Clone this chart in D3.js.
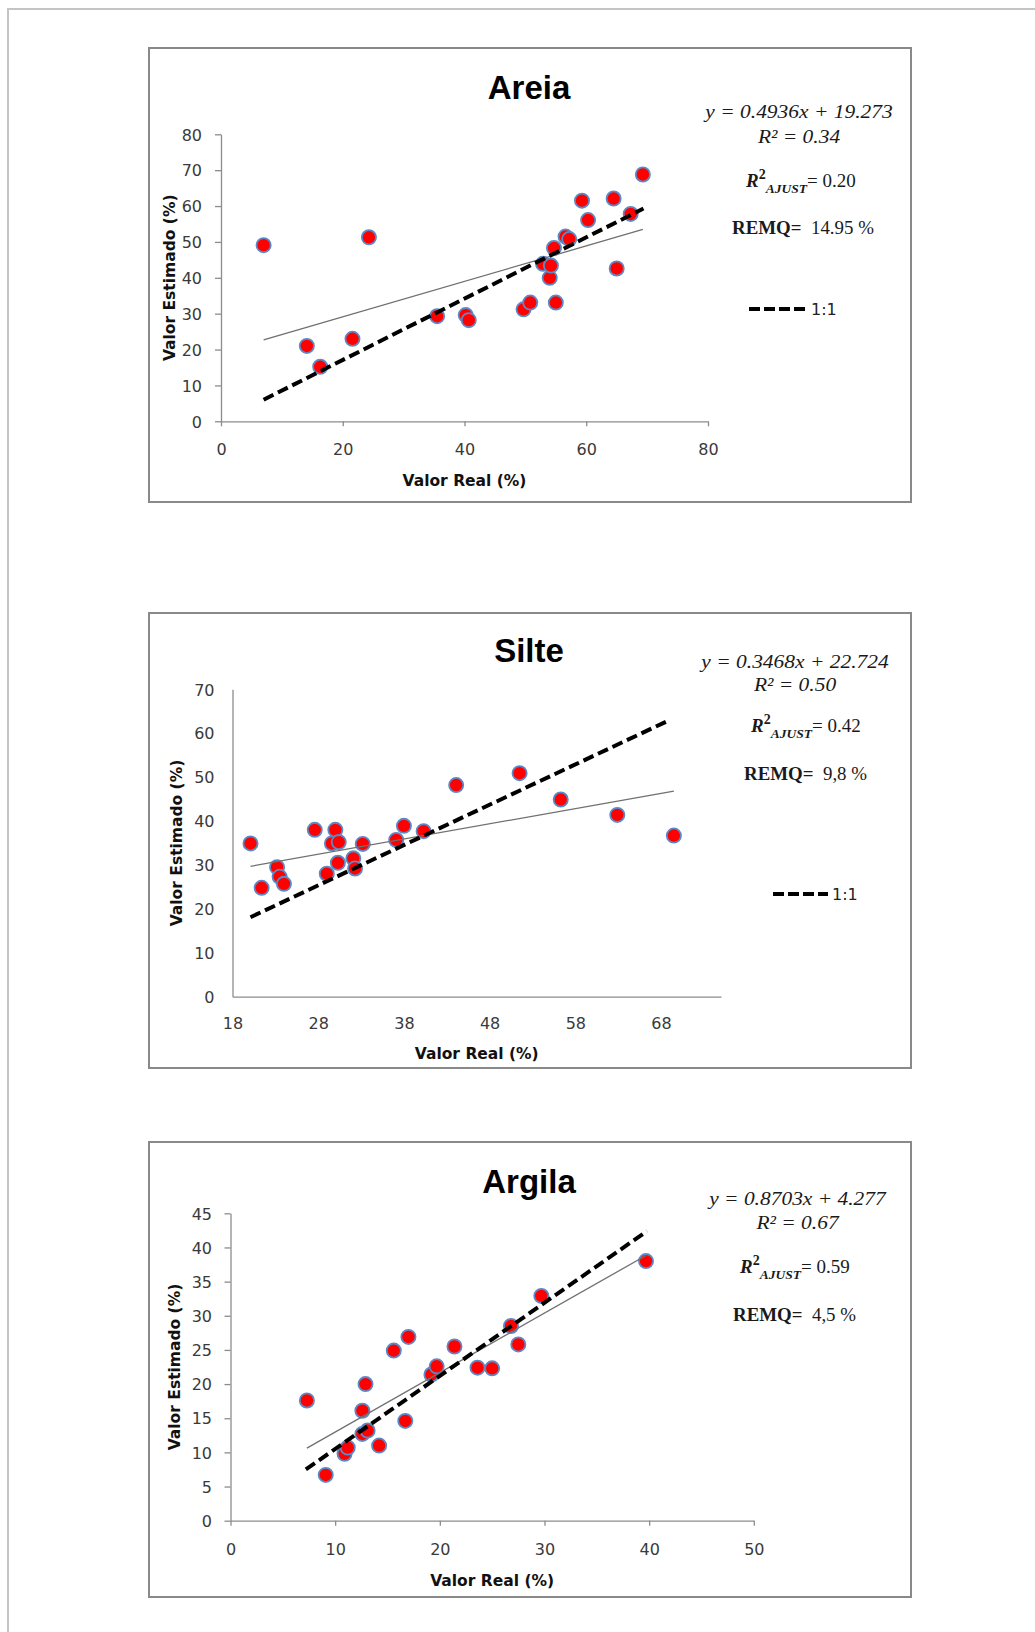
<!DOCTYPE html>
<html>
<head>
<meta charset="utf-8">
<script src="https://cdn.jsdelivr.net/npm/d3@7"></script>
<style>
  body { margin: 0; background: #fff; }
</style>
</head>
<body>
<script>
// values
const areiaReal = [7.0, 24.3, 14.1, 16.3, 21.6, 35.5, 40.2, 40.7, 49.7, 50.8, 55.0, 54.0, 52.9, 54.2, 54.7, 56.6, 57.2, 60.3, 59.3, 64.5, 65.0, 67.3, 69.3];
const areiaEst  = [49.1, 51.3, 21.0, 15.2, 23.0, 29.3, 29.6, 28.2, 31.2, 33.1, 33.1, 40.0, 43.9, 43.4, 48.3, 51.5, 50.8, 56.1, 61.5, 62.1, 42.6, 57.8, 68.8];
const areiaRef  = [[7.0, 6.0], [69.4, 59.3]];

const silteReal = [20.1, 21.4, 23.2, 23.5, 24.0, 27.6, 30.0, 29.6, 30.4, 30.3, 29.0, 32.1, 32.3, 33.2, 37.1, 38.0, 40.3, 44.1, 51.5, 56.3, 62.9, 69.5];
const silteEst  = [34.9, 24.8, 29.5, 27.3, 25.7, 38.0, 38.0, 34.9, 35.2, 30.5, 28.0, 31.5, 29.2, 34.8, 35.7, 38.9, 37.7, 48.2, 50.9, 44.9, 41.4, 36.7];
const silteRef  = [[20.1, 18.1], [68.9, 62.9]];

const argilaReal = [7.3, 9.1, 10.9, 11.2, 12.6, 12.9, 12.6, 13.1, 14.2, 15.6, 17.0, 16.7, 19.2, 19.7, 21.4, 23.6, 25.0, 26.8, 27.5, 29.7, 39.7];
const argilaEst  = [17.6, 6.7, 9.8, 10.7, 16.1, 20.0, 12.7, 13.2, 11.0, 24.9, 26.9, 14.6, 21.4, 22.6, 25.5, 22.4, 22.3, 28.5, 25.8, 32.9, 38.0];
const argilaRef  = [[7.2, 7.5], [39.8, 42.4]];

// trendline equations as printed on the chart
const areiaFit  = {slope: 0.4936, intercept: 19.273, eq: "y = 0.4936x + 19.273", r2: "0.34", adj: "0.20", remq: "14.95 %"};
const silteFit  = {slope: 0.3468, intercept: 22.724, eq: "y = 0.3468x + 22.724", r2: "0.50", adj: "0.42", remq: "9,8 %"};
const argilaFit = {slope: 0.8703, intercept: 4.277,  eq: "y = 0.8703x + 4.277",  r2: "0.67", adj: "0.59", remq: "4,5 %"};

const areiaXTicks = [0, 20, 40, 60, 80];
const areiaYTicks = [0, 10, 20, 30, 40, 50, 60, 70, 80];
const silteXTicks = [18, 28, 38, 48, 58, 68];
const silteYTicks = [0, 10, 20, 30, 40, 50, 60, 70];
const argilaXTicks = [0, 10, 20, 30, 40, 50];
const argilaYTicks = [0, 5, 10, 15, 20, 25, 30, 35, 40, 45];

const width = 1035, height = 1632;
const svg = d3.select("body").append("svg")
  .attr("width", width).attr("height", height);

// page frame (only top and left edges are in view)
svg.append("path")
  .attr("d", `M8,${height}V9H${width}`)
  .attr("fill", "none").attr("stroke", "#c4c4c4").attr("stroke-width", 2);

const panels = [
  {title: "Areia", real: areiaReal, est: areiaEst, ref: areiaRef, fit: areiaFit,
   xDomain: [0, 80], yDomain: [0, 80], xTicks: areiaXTicks, yTicks: areiaYTicks, tickMarks: true,
   box: [149, 48, 911, 502], xr: [221, 708], yr: [421.3, 134.3], titleY: 99,
   yLabX: 175, xLabY: 486, xTickY: 34, yTickGap: 19,
   ann: {cx: 799, eqY: 118, r2Y: 143, adjX: 746, adjY: 187, remqX: 732, remqY: 234},
   legend: {x1: 749, x2: 807, y: 309}},
  {title: "Silte", real: silteReal, est: silteEst, ref: silteRef, fit: silteFit,
   xDomain: [18, 75], yDomain: [0, 70], xTicks: silteXTicks, yTicks: silteYTicks, tickMarks: false,
   box: [149, 613, 911, 1068], xr: [232.5, 721], yr: [996.7, 689.3], titleY: 662,
   yLabX: 182, xLabY: 1059, xTickY: 32, yTickGap: 18,
   ann: {cx: 795, eqY: 668, r2Y: 691, adjX: 751, adjY: 732, remqX: 744, remqY: 780},
   legend: {x1: 773, x2: 828, y: 894}},
  {title: "Argila", real: argilaReal, est: argilaEst, ref: argilaRef, fit: argilaFit,
   xDomain: [0, 50], yDomain: [0, 45], xTicks: argilaXTicks, yTicks: argilaYTicks, tickMarks: true,
   box: [149, 1142, 911, 1597], xr: [230.5, 753.8], yr: [1520.7, 1213.3], titleY: 1193,
   yLabX: 180, xLabY: 1586, xTickY: 34, yTickGap: 18.5,
   ann: {cx: 797.5, eqY: 1205, r2Y: 1229, adjX: 740, adjY: 1273, remqX: 733, remqY: 1321},
   legend: null}
];

const serif = "'Liberation Serif', 'Times New Roman', serif";
const sans = "'DejaVu Sans', Verdana, sans-serif";

function serifText(g, x, y, anchor, sx) {
  return g.append("text")
    .attr("transform", `translate(${x},${y}) scale(${sx},1)`)
    .attr("text-anchor", anchor)
    .attr("font-family", serif)
    .attr("fill", "#1a1a1a");
}

panels.forEach(p => {
  const g = svg.append("g");
  const [bx1, by1, bx2, by2] = p.box;

  g.append("rect")
    .attr("x", bx1).attr("y", by1)
    .attr("width", bx2 - bx1).attr("height", by2 - by1)
    .attr("fill", "#fff").attr("stroke", "#898989").attr("stroke-width", 2);

  const x = d3.scaleLinear().domain(p.xDomain).range(p.xr);
  const y = d3.scaleLinear().domain(p.yDomain).range(p.yr);

  const xAxis = g.append("g")
    .attr("transform", `translate(0,${p.yr[0]})`)
    .call(d3.axisBottom(x).tickValues(p.xTicks).tickSizeInner(p.tickMarks ? 5 : 0).tickSizeOuter(0));
  const yAxis = g.append("g")
    .attr("transform", `translate(${p.xr[0]},0)`)
    .call(d3.axisLeft(y).tickValues(p.yTicks).tickSizeInner(p.tickMarks ? 6 : 0).tickSizeOuter(0));

  [xAxis, yAxis].forEach(a => {
    a.select(".domain").attr("stroke", "#8c8c8c").attr("stroke-width", 1.3);
    a.selectAll(".tick line").attr("stroke", "#8c8c8c").attr("stroke-width", 1.3);
    a.selectAll(".tick text")
      .attr("font-family", sans).attr("font-size", 16).attr("fill", "#3a3a3a");
  });
  xAxis.selectAll(".tick text").attr("y", p.xTickY).attr("dy", null);
  yAxis.selectAll(".tick text").attr("x", -p.yTickGap).attr("dy", "0.36em");

  // axis titles
  g.append("text")
    .attr("x", (p.xr[0] + p.xr[1]) / 2).attr("y", p.xLabY)
    .attr("text-anchor", "middle")
    .attr("font-family", sans).attr("font-weight", "bold").attr("font-size", 15.5)
    .attr("fill", "#111")
    .text("Valor Real (%)");
  g.append("text")
    .attr("transform", `translate(${p.yLabX},${(p.yr[0] + p.yr[1]) / 2}) rotate(-90)`)
    .attr("text-anchor", "middle")
    .attr("font-family", sans).attr("font-weight", "bold").attr("font-size", 15.5)
    .attr("fill", "#111")
    .text("Valor Estimado (%)");

  // chart title
  g.append("text")
    .attr("x", 529).attr("y", p.titleY)
    .attr("text-anchor", "middle")
    .attr("font-family", "'Liberation Sans', Arial, sans-serif")
    .attr("font-weight", "bold").attr("font-size", 33)
    .attr("fill", "#000")
    .text(p.title);

  // points
  const pts = p.real.map((r, i) => [r, p.est[i]]);
  g.append("g").selectAll("circle")
    .data(pts)
    .join("circle")
    .attr("cx", d => x(d[0]))
    .attr("cy", d => y(d[1]))
    .attr("r", 7.1)
    .attr("fill", "#ff0000")
    .attr("stroke", "#5b8ac6")
    .attr("stroke-width", 1.8);

  const line = d3.line().x(d => x(d[0])).y(d => y(d[1]));

  // linear trendline
  const ext = d3.extent(p.real);
  const trend = ext.map(v => [v, p.fit.slope * v + p.fit.intercept]);
  g.append("path")
    .attr("d", line(trend))
    .attr("fill", "none").attr("stroke", "#707070").attr("stroke-width", 1.3);

  // 1:1 reference
  g.append("path")
    .attr("d", line(p.ref))
    .attr("fill", "none").attr("stroke", "#000")
    .attr("stroke-width", 4).attr("stroke-dasharray", "11,5");

  // annotations
  const a = p.ann;
  serifText(g, a.cx, a.eqY, "middle", 1.1)
    .attr("font-style", "italic").attr("font-size", 19.5)
    .text(p.fit.eq);
  serifText(g, a.cx, a.r2Y, "middle", 1.1)
    .attr("font-style", "italic").attr("font-size", 19.5)
    .text(`R² = ${p.fit.r2}`);

  const adj = serifText(g, a.adjX, a.adjY, "start", 1.0).attr("font-size", 19);
  adj.append("tspan").attr("font-weight", "bold").attr("font-style", "italic").text("R");
  adj.append("tspan").attr("font-weight", "bold").attr("font-size", 14).attr("dy", -8).text("2");
  adj.append("tspan").attr("font-weight", "bold").attr("font-style", "italic").attr("font-size", 13.5).attr("dy", 14).text("AJUST");
  adj.append("tspan").attr("dy", -6).text(`= ${p.fit.adj}`);

  const remq = serifText(g, a.remqX, a.remqY, "start", 1.05).attr("font-size", 18);
  remq.append("tspan").attr("font-weight", "bold").text("REMQ=");
  remq.append("tspan").text(`\u00a0 ${p.fit.remq}`);

  if (p.legend) {
    const L = p.legend;
    g.append("line")
      .attr("x1", L.x1).attr("x2", L.x2).attr("y1", L.y).attr("y2", L.y)
      .attr("stroke", "#000").attr("stroke-width", 4).attr("stroke-dasharray", "11,4");
    g.append("text")
      .attr("x", L.x2 + 4).attr("y", L.y + 6)
      .attr("font-family", sans).attr("font-size", 16).attr("fill", "#222")
      .text("1:1");
  }
});
</script>
</body>
</html>
